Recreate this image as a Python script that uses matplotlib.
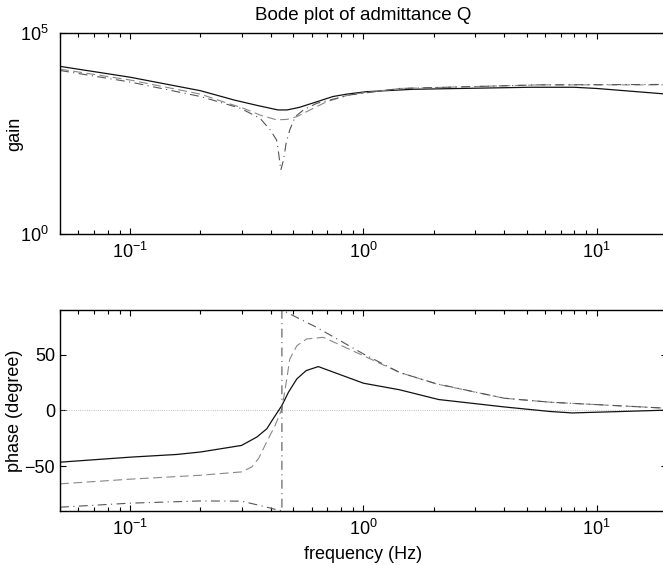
import matplotlib
matplotlib.use('Agg')
import matplotlib.pyplot as plt
from matplotlib.ticker import LogLocator, NullLocator, NullFormatter

plt.rcParams['font.family'] = ['Liberation Sans', 'DejaVu Sans']
plt.rcParams['mathtext.fontset'] = 'custom'
plt.rcParams['mathtext.rm'] = 'Liberation Sans'
plt.rcParams['mathtext.it'] = 'Liberation Sans:italic'
plt.rcParams['mathtext.sf'] = 'Liberation Sans'

# gain curves (frequency in Hz, gain)
f_gain_solid = [0.05, 0.1, 0.2, 0.28, 0.35, 0.43, 0.47, 0.53, 0.64, 0.74, 0.85, 1.03, 1.63, 5.2, 8, 10, 20]
gain_solid = [14800, 7940, 3670, 2140, 1580, 1220, 1220, 1410, 2000, 2630, 3020, 3470, 3980, 4470, 4470, 4170, 3020]

f_gain_dash = [0.05, 0.1, 0.2, 0.25, 0.305, 0.36, 0.424, 0.469, 0.518, 0.59, 0.695, 0.875, 1.43, 5.7, 20]
gain_dash = [12600, 6760, 3020, 1950, 1350, 912, 692, 708, 832, 1220, 1950, 2950, 4170, 5130, 5130]

f_gain_dashdot = [0.05, 0.1, 0.2, 0.296, 0.36, 0.398, 0.424, 0.431, 0.442, 0.454, 0.466, 0.483,
                  0.51, 0.553, 0.63, 0.875, 1.43, 5.7, 20]
gain_dashdot = [11700, 6030, 2630, 1350, 759, 389, 219, 123, 39, 69, 182, 389,
                832, 1220, 1780, 2880, 4170, 5130, 5250]

# phase curves (degree)
f_phase_solid = [0.05, 0.1, 0.158, 0.2, 0.3, 0.349, 0.385, 0.41, 0.447, 0.477, 0.518, 0.568, 0.64,
                 1.0, 1.43, 2.1, 4.0, 6.3, 7.85, 20]
phase_solid = [-46.3, -41.8, -39.4, -37.2, -31.3, -23.8, -16.4, -7.4, 4.5, 16.4, 28.3, 35.7, 39.3,
               24.4, 18.5, 9.8, 3.2, -0.9, -2.2, 0.3]

f_phase_dash = [0.05, 0.1, 0.2, 0.3, 0.332, 0.355, 0.385, 0.418, 0.447, 0.469, 0.483, 0.518, 0.57,
                0.673, 1.0, 1.43, 2.05, 4.0, 6.3, 20]
phase_dash = [-65.7, -61.5, -58, -55, -50.6, -43, -28, -13.4, 1.5, 28.3, 46, 58, 64,
              65.5, 49, 34, 23.8, 11.0, 7.4, 2]

f_phase_dashdot = [0.05, 0.1, 0.2, 0.3, 0.355, 0.447, 0.447, 0.63, 1.0, 1.43, 2.05, 4.0, 6.3, 20]
phase_dashdot = [-86.6, -83, -81, -81.2, -84.8, -90, 90, 74.4, 50.6, 34, 24, 11.0, 7.4, 2]

FS = 13


def style_axis(ax):
    ax.set_xscale('log')
    ax.set_xlim(0.05, 20)
    ax.xaxis.set_major_locator(LogLocator(base=10, numticks=10))
    ax.xaxis.set_minor_locator(LogLocator(base=10, subs=range(2, 10), numticks=30))
    ax.xaxis.set_minor_formatter(NullFormatter())
    ax.tick_params(which='both', direction='in', top=True, right=True, labelsize=FS, width=0.8)
    ax.tick_params(which='major', length=4.5)
    ax.tick_params(which='minor', length=3)
    ax.tick_params(axis='x', which='both', pad=6)
    for s in ax.spines.values():
        s.set_linewidth(1.0)


fig = plt.figure(figsize=(6.63, 5.65), dpi=100)
ax1 = fig.add_axes([0.0905, 0.5858, 0.9155, 0.3558])
ax2 = fig.add_axes([0.0905, 0.0956, 0.9155, 0.3558])

# gain
ax1.plot(f_gain_solid, gain_solid, color='#111111', lw=0.9)
ax1.plot(f_gain_dash, gain_dash, color='#888888', lw=0.8, dashes=(8, 4))
ax1.plot(f_gain_dashdot, gain_dashdot, color='#555555', lw=0.8, dashes=(8, 4, 1, 4))
ax1.set_yscale('log')
ax1.set_ylim(1, 1e5)
ax1.set_yticks([1, 1e5])
ax1.yaxis.set_minor_locator(NullLocator())
style_axis(ax1)
ax1.tick_params(axis='y', pad=8)
ax1.set_ylabel('gain', fontsize=FS)
ax1.yaxis.set_label_coords(-0.061, 0.5)
ax1.set_title('Bode plot of admittance Q', fontsize=13.5, pad=9)

# phase
ax2.axhline(0, color='#aaaaaa', lw=0.6, ls=':')
ax2.plot(f_phase_solid, phase_solid, color='#111111', lw=0.9)
ax2.plot(f_phase_dash, phase_dash, color='#888888', lw=0.8, dashes=(8, 4))
ax2.plot(f_phase_dashdot, phase_dashdot, color='#555555', lw=0.8, dashes=(8, 4, 1, 4))
ax2.set_ylim(-90, 90)
ax2.set_yticks([-50, 0, 50])
style_axis(ax2)
ax2.tick_params(axis='y', pad=3.5)
ax2.set_ylabel('phase (degree)', fontsize=FS)
ax2.yaxis.set_label_coords(-0.061, 0.5)
ax2.set_xlabel('frequency (Hz)', fontsize=FS, labelpad=5)

fig.savefig('out.png', dpi=100)
